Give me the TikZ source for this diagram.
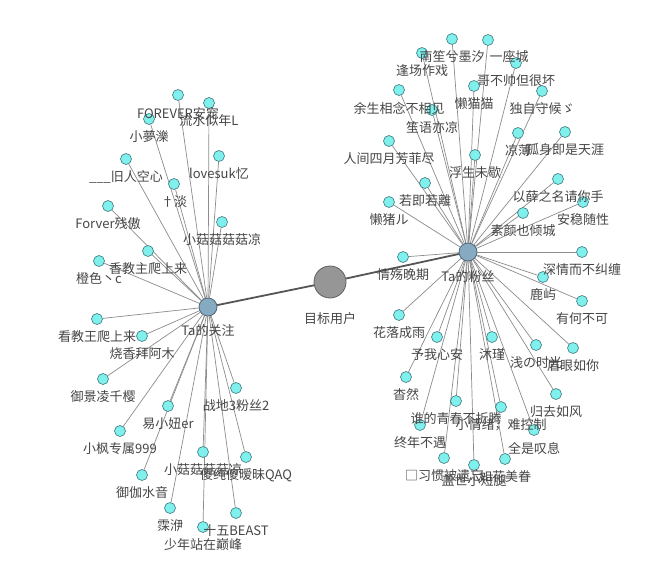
\documentclass[tikz,border=0pt]{standalone}
\usepackage{fontspec}
\setmainfont{Noto Sans CJK SC}
\pgfdeclarelayer{bg}
\pgfdeclarelayer{fg}
\pgfsetlayers{bg,main,fg}
\definecolor{leaffill}{RGB}{128,240,236}
\definecolor{leafdraw}{RGB}{60,120,130}
\definecolor{hubfill}{RGB}{135,170,195}
\definecolor{hubdraw}{RGB}{80,100,120}
\definecolor{bigfill}{RGB}{150,150,150}
\definecolor{bigdraw}{RGB}{95,95,95}
\definecolor{edgecol}{RGB}{140,140,140}
\definecolor{mainedge}{RGB}{85,85,85}
\definecolor{txt}{RGB}{70,70,70}
\newcommand\leaf[3]{\node[leaf] (#1) at (#2) {};\begin{pgfonlayer}{fg}\node[lbl] at ([yshift=-18pt]#1.center) {#3};\end{pgfonlayer}}
\newcommand\leafl[4]{\node[leaf] (#1) at (#2) {};\begin{pgfonlayer}{fg}\node[lbl] at (#3) {#4};\end{pgfonlayer}}
\begin{document}
\begin{tikzpicture}[x=1pt,y=-1pt,
  leaf/.style={circle,draw=leafdraw,fill=leaffill,line width=0.6pt,minimum size=11pt,inner sep=0pt},
  hub/.style={circle,draw=hubdraw,fill=hubfill,line width=0.8pt,minimum size=18pt,inner sep=0pt},
  big/.style={circle,draw=bigdraw,fill=bigfill,line width=0.8pt,minimum size=32pt,inner sep=0pt},
  lbl/.style={font=\fontsize{13}{14}\selectfont,text=txt,inner sep=0pt},
  edge/.style={draw=edgecol,line width=0.7pt},
  mainline/.style={draw=mainedge,line width=1.8pt}]
\useasboundingbox (0,0) rectangle (655,566);
\begin{pgfonlayer}{bg}
\fill[white] (0,0) rectangle (655,566);
\end{pgfonlayer}
% centre and hubs
\node[big] (T) at (330,282) {};
\node[hub] (A) at (208,307) {};
\node[hub] (B) at (468,252) {};
\begin{pgfonlayer}{fg}
\node[lbl] at (330,319) {目标用户};
\node[lbl] at (208,331) {Ta的关注};
\node[lbl] at (468,277) {Ta的粉丝};
\end{pgfonlayer}
% left hub leaves
\leaf{a1}{178,95}{FOREVER安宠}
\leaf{a2}{209,103}{流水似年L}
\leaf{a3}{149,119}{小夢濼}
\leaf{a4}{126,159}{\_\_\_旧人空心}
\leaf{a5}{219,156}{lovesuk忆}
\leaf{a6}{174,184}{†淡}
\leaf{a7}{108,206}{Forver残傲}
\leaf{a8}{222,222}{小菇菇菇菇凉}
\leaf{a9}{148,251}{香教主爬上来}
\leaf{a10}{99,261}{橙色丶c}
\leaf{a11}{97,319}{看教王爬上来}
\leaf{a12}{142,336}{烧香拜阿木}
\leaf{a13}{103,379}{御景凌千樱}
\leaf{a14}{236,388}{战地3粉丝2}
\leaf{a15}{168,406}{易小妞er}
\leaf{a16}{120,431}{小枫专属999}
\leaf{a17}{203,452}{小菇菇菇菇凉}
\leaf{a18}{246,457}{傻纯傻暧昧QAQ}
\leaf{a19}{142,475}{御伽水音}
\leaf{a20}{170,508}{霂洢}
\leaf{a21}{236,513}{十五BEAST}
\leaf{a22}{203,527}{少年站在巅峰}
% right hub leaves
\leaf{b1}{452,39}{南笙兮墨汐}
\leafl{b2}{488,40}{509,57}{一座城}
\leaf{b3}{422,53}{逢场作戏}
\leaf{b4}{516,63}{哥不帅但很坏}
\leaf{b5}{474,86}{懒猫猫}
\leaf{b6}{399,90}{余生相念不相见}
\leaf{b7}{542,91}{独自守候ゞ}
\leaf{b8}{432,110}{笙语亦凉}
\leaf{b9}{518,133}{凉薄}
\leaf{b10}{565,132}{孤身即是天涯}
\leaf{b11}{389,141}{人间四月芳菲尽}
\leaf{b12}{475,155}{浮生未歇}
\leaf{b13}{558,179}{以薛之名请你手}
\leaf{b14}{425,183}{若即若離}
\leaf{b15}{389,202}{懒猪ル}
\leaf{b16}{583,202}{安稳随性}
\leaf{b17}{523,213}{素颜也倾城}
\leaf{b18}{403,257}{情殇晚期}
\leaf{b19}{582,252}{深情而不纠缠}
\leaf{b20}{543,277}{鹿屿}
\leaf{b21}{582,301}{有何不可}
\leaf{b22}{399,315}{花落成雨}
\leaf{b23}{437,337}{予我心安}
\leaf{b24}{492,337}{沐瑾}
\leaf{b25}{536,345}{浅の时光}
\leaf{b26}{573,348}{眉眼如你}
\leaf{b27}{406,377}{杳然}
\leaf{b28}{556,394}{归去如风}
\leaf{b29}{456,401}{谁的青春不折腾}
\leaf{b30}{501,407}{小情绪，难控制}
\leaf{b31}{420,425}{终年不遇}
\leaf{b32}{534,430}{全是叹息}
\leaf{b33}{444,458}{□习惯被遗忘}
\leafl{b34}{474,465}{474,481}{盖世小短腿}
\leaf{b35}{505,459}{如花美眷}
% edges
\begin{pgfonlayer}{bg}
\foreach \i in {1,...,22} \draw[edge] (A) -- (a\i);
\foreach \i in {1,...,35} \draw[edge] (B) -- (b\i);
\draw[mainline] (T) -- (A);
\draw[mainline] (T) -- (B);
\end{pgfonlayer}
\end{tikzpicture}
\end{document}
